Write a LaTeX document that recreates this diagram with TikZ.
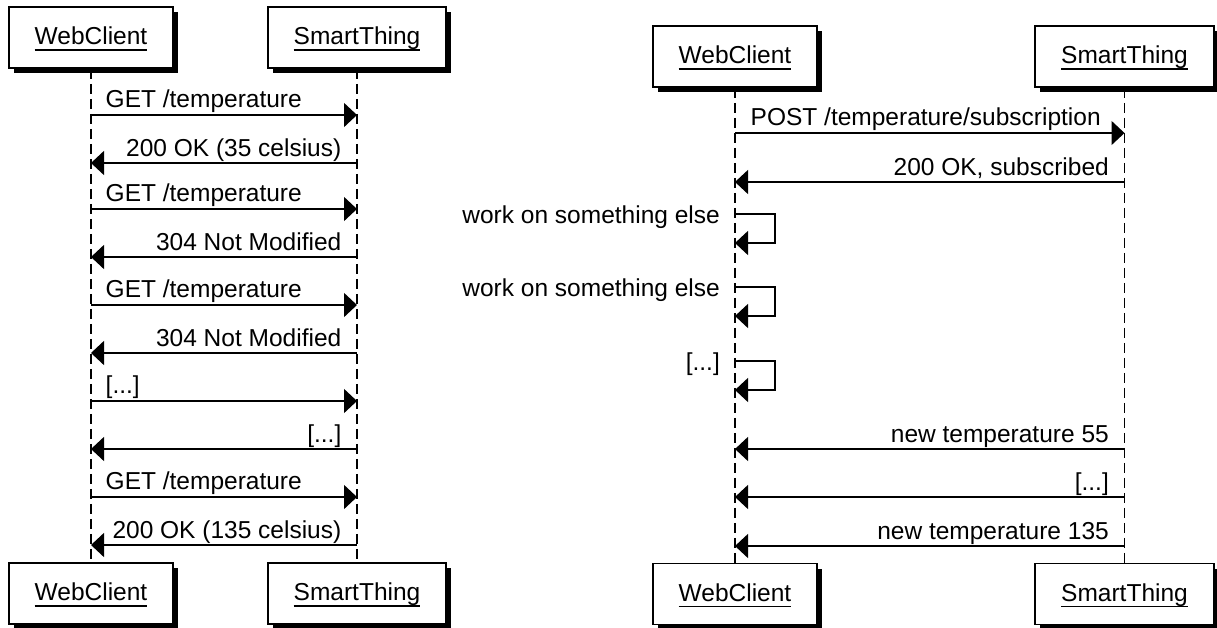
\documentclass[tikz,border=0pt]{standalone}
\usepackage{fontspec}
\setmainfont{Liberation Sans}
\usetikzlibrary{arrows.meta,shadows}
\newcommand\myul[1]{\setbox0\hbox{#1}\rlap{\rule[-6pt]{\wd0}{1.4pt}}\box0}
\begin{document}
\begin{tikzpicture}[x=1pt,y=-1pt,
  font=\fontsize{24.5}{29}\selectfont,
  actor/.style={draw, line width=1.5pt, fill=white, minimum height=61pt,
    text height=18pt, text depth=4pt, inner sep=0pt,
    general shadow={fill=black, shadow xshift=5pt, shadow yshift=-5pt}},
  life/.style={line width=1.5pt, dash pattern=on 10pt off 5pt},
  msg/.style={line width=1.4pt, -{Triangle[length=13pt,width=24pt]}},
  fwd/.style={pos=0, anchor=base west, xshift=14pt, yshift=7.5pt, inner sep=0pt},
  back/.style={pos=0, anchor=base east, xshift=-15pt, yshift=7pt, inner sep=0pt},
  loopl/.style={anchor=base east, xshift=-15pt, yshift=-9pt, inner sep=0pt}]
\useasboundingbox (0,0) rectangle (1217,627);

% left diagram
\node[actor, minimum width=164pt] (lwc) at (91,37.5) {\myul{WebClient}};
\node[actor, minimum width=178pt] (lst) at (357,37.5) {\myul{SmartThing}};
\node[actor, minimum width=164pt] (lwcb) at (91,593.5) {\myul{WebClient}};
\node[actor, minimum width=178pt] (lstb) at (357,593.5) {\myul{SmartThing}};
\draw[life] (lwc.south) -- (lwcb.north);
\draw[life] (lst.south) -- (lstb.north);

\foreach \i/\y in {1/115,2/163,3/209,4/257,5/305,6/353,7/401,8/449,9/497,10/545}{
  \coordinate (a\i) at (lwc.south |- 0,\y);
  \coordinate (b\i) at (lst.south |- 0,\y);}

\draw[msg] (a1) -- (b1) node[fwd]{GET /temperature};
\draw[msg] (b2) -- (a2) node[back]{200 OK (35 celsius)};
\draw[msg] (a3) -- (b3) node[fwd]{GET /temperature};
\draw[msg] (b4) -- (a4) node[back]{304 Not Modified};
\draw[msg] (a5) -- (b5) node[fwd]{GET /temperature};
\draw[msg] (b6) -- (a6) node[back]{304 Not Modified};
\draw[msg] (a7) -- (b7) node[fwd]{[...]};
\draw[msg] (b8) -- (a8) node[back]{[...]};
\draw[msg] (a9) -- (b9) node[fwd]{GET /temperature};
\draw[msg] (b10) -- (a10) node[back]{200 OK (135 celsius)};

% right diagram
\node[actor, minimum width=164pt] (rwc) at (735,56.5) {\myul{WebClient}};
\node[actor, minimum width=179pt] (rst) at (1124.5,56.5) {\myul{SmartThing}};
\node[actor, minimum width=164pt] (rwcb) at (735,594) {\myul{WebClient}};
\node[actor, minimum width=179pt] (rstb) at (1124.5,594) {\myul{SmartThing}};
\draw[life] (rwc.south) -- (rwcb.north);
\draw[life] (rst.south) -- (rstb.north);

\foreach \i/\y in {1/133,2/182,3/449,4/497,5/546}{
  \coordinate (c\i) at (rwc.south |- 0,\y);
  \coordinate (d\i) at (rst.south |- 0,\y);}
\foreach \i/\y in {1/214,2/287,3/361}{
  \coordinate (e\i) at (rwc.south |- 0,\y);
  \coordinate (f\i) at (rwc.south |- 0,\y+29);}

\draw[msg] (c1) -- (d1) node[fwd, xshift=1pt]{POST /temperature/subscription};
\draw[msg] (d2) -- (c2) node[back]{200 OK, subscribed};
\draw[msg] (e1) -- ++(40,0) -- ++(0,29) -- (f1);
\path (e1) node[loopl]{work on something else};
\draw[msg] (e2) -- ++(40,0) -- ++(0,29) -- (f2);
\path (e2) node[loopl]{work on something else};
\draw[msg] (e3) -- ++(40,0) -- ++(0,29) -- (f3);
\path (e3) node[loopl]{[...]};
\draw[msg] (d3) -- (c3) node[back]{new temperature 55};
\draw[msg] (d4) -- (c4) node[back]{[...]};
\draw[msg] (d5) -- (c5) node[back]{new temperature 135};
\end{tikzpicture}
\end{document}
